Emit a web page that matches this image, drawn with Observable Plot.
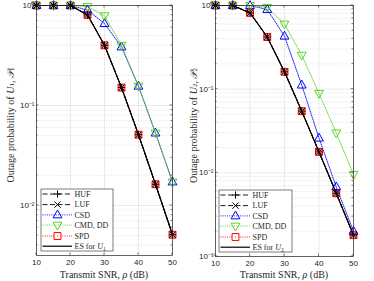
<!DOCTYPE html>
<html><head><meta charset="utf-8">
<script src="https://cdn.jsdelivr.net/npm/d3@7"></script>
<script src="https://cdn.jsdelivr.net/npm/@observablehq/plot@0.6"></script>
<style>
body{margin:0;background:#fff}
#c{display:flex;width:374px;height:281px;overflow:hidden}
svg{display:block}
</style>
</head><body><div id="c"></div>
<script>
// ---- data ----
const snr = [10, 15, 20, 25, 30, 35, 40, 45, 50];
const xTicks = [10, 20, 30, 40, 50];

// user 1 (left panel)
const u1HUF = [1, 1, 1, 0.805, 0.40, 0.151, 0.051, 0.0163, 0.0051];
const u1LUF = [1, 1, 1, 0.805, 0.40, 0.151, 0.051, 0.0163, 0.0051];
const u1CSD = [1, 1, 1, 0.90, 0.66, 0.385, 0.156, 0.053, 0.0172];
const u1CMD = [1, 1, 1, 0.98, 0.79, 0.40, 0.156, 0.053, 0.0172];
const u1SPD = [1, 1, 1, 0.805, 0.40, 0.151, 0.051, 0.0163, 0.0051];
const u1ES  = [1, 1, 1, 0.805, 0.40, 0.151, 0.051, 0.0163, 0.0051];
const u1YTicks = [1, 0.1, 0.01];

// user 2 (right panel)
const u2HUF = [1, 1, 0.816, 0.42, 0.161, 0.0546, 0.0178, 0.0057, 0.0018];
const u2LUF = [1, 1, 0.816, 0.42, 0.161, 0.0546, 0.0178, 0.0057, 0.0018];
const u2CSD = [1, 1, 1, 0.895, 0.43, 0.112, 0.026, 0.0068, 0.0020];
const u2CMD = [1, 1, 1, 0.95, 0.60, 0.255, 0.089, 0.030, 0.0096];
const u2SPD = [1, 1, 0.816, 0.42, 0.161, 0.0546, 0.0178, 0.0057, 0.0018];
const u2ES  = [1, 1, 0.816, 0.42, 0.161, 0.0546, 0.0178, 0.0057, 0.0018];
const u2YTicks = [1, 0.1, 0.01, 0.001];

const seriesNames = ["HUF", "LUF", "CSD", "CMD, DD", "SPD", "ES for"];
const xLabelParts = ["Transmit SNR, ", "ρ", " (dB)"];
const yLabelText = "Outage probability of ";

// ---- styling ----
const SANS = "'Liberation Sans', Arial, Helvetica, sans-serif";
const SERIF = "'Liberation Serif', 'Times New Roman', serif";
const BLUE = "#0000ff", GREEN = "#5ed31f", RED = "#ff0000", BLACK = "#000";

const sym = {
  plus: {draw(c, s){const r=Math.sqrt(s/Math.PI); c.moveTo(-r,0); c.lineTo(r,0); c.moveTo(0,-r); c.lineTo(0,r);}},
  times: {draw(c, s){const r=Math.sqrt(s/Math.PI)*0.75; c.moveTo(-r,-r); c.lineTo(r,r); c.moveTo(-r,r); c.lineTo(r,-r);}},
  up: {draw(c, s){const r=Math.sqrt(s/Math.PI); c.moveTo(0,-r); c.lineTo(r*0.9,r*0.6); c.lineTo(-r*0.9,r*0.6); c.closePath();}},
  down: {draw(c, s){const r=Math.sqrt(s/Math.PI); c.moveTo(0,r); c.lineTo(r*0.9,-r*0.6); c.lineTo(-r*0.9,-r*0.6); c.closePath();}},
  square: {draw(c, s){const r=Math.sqrt(s/Math.PI)*0.8; c.rect(-r,-r,2*r,2*r);}}
};

const supMap = {"-":"⁻","0":"⁰","1":"¹","2":"²","3":"³"};
const fmtPow = d => "10" + String(Math.round(Math.log10(d))).split("").map(c => supMap[c]).join("");

function rows(vals){ return snr.map((x, i) => ({x, y: vals[i]})); }

function panel(cfg){
  const {width, height, ml, mr, mt, mb, yDomain, yTicks, data, sub, ylabX, legend} = cfg;
  const specs = [
    {name: seriesNames[0], vals: data.HUF, stroke: BLACK, dash: "5,2.5", symbol: sym.plus, r: 3.6, fill: "none"},
    {name: seriesNames[1], vals: data.LUF, stroke: BLACK, dash: "5,2.5", symbol: sym.times, r: 4.2, fill: "none"},
    {name: seriesNames[2], vals: data.CSD, stroke: BLUE, dash: "1,1.2", symbol: sym.up, r: 4.9, fill: "none"},
    {name: seriesNames[3], vals: data.CMD, stroke: GREEN, dash: "1,1.2", symbol: sym.down, r: 4.9, fill: "none"},
    {name: seriesNames[4], vals: data.SPD, stroke: RED, dash: "1,1.2", symbol: sym.square, r: 4.3, fill: "rgba(255,60,60,0.45)"},
    {name: seriesNames[5], vals: data.ES, stroke: BLACK, dash: null, symbol: null}
  ];
  const minor = [];
  for (let e = Math.floor(Math.log10(yDomain[0])); e < 0; e++)
    for (let m = 2; m <= 9; m++){ const v = m * 10 ** e; if (v >= yDomain[0] && v <= yDomain[1]) minor.push(v); }

  const lineOrder = [2, 3, 4, 0, 1];
  const marks = [
    Plot.ruleY(minor, {y: d => d, stroke: "#cfcfcf", strokeWidth: 0.6, strokeDasharray: "1,1.5"}),
    Plot.ruleY(yTicks, {y: d => d, stroke: "#dcdcdc", strokeWidth: 0.6}),
    Plot.ruleX(xTicks, {x: d => d, stroke: "#dcdcdc", strokeWidth: 0.6}),
    ...lineOrder.map(i => Plot.line(rows(specs[i].vals), {x: "x", y: "y", stroke: specs[i].stroke, strokeWidth: 0.9, strokeDasharray: specs[i].dash})),
    ...[4, 2, 3, 0, 1].map(i => Plot.dot(rows(specs[i].vals), {x: "x", y: "y", symbol: specs[i].symbol, r: specs[i].r, stroke: specs[i].stroke, fill: specs[i].fill, strokeWidth: 1})),
    Plot.line(rows(specs[5].vals), {x: "x", y: "y", stroke: BLACK, strokeWidth: 1.2}),
    Plot.frame({stroke: "#262626", strokeWidth: 0.7}),
    Plot.axisX({ticks: xTicks, tickSize: 0, tickPadding: 4, label: null, fontSize: 8}),
    Plot.axisY({ticks: yTicks, tickFormat: fmtPow, tickSize: 0, tickPadding: 2, label: null, fontSize: 8})
  ];

  const svg = Plot.plot({
    width, height, marginLeft: ml, marginRight: mr, marginTop: mt, marginBottom: mb,
    style: {fontFamily: SANS, fontSize: "8px", background: "#fff", color: "#262626"},
    x: {domain: [10, 50], label: null},
    y: {type: "log", domain: yDomain, label: null},
    marks
  });
  const xs = svg.scale("x"), ys = svg.scale("y");
  const S = d3.select(svg);
  const x0 = ml, x1 = width - mr, y0 = mt, y1 = height - mb;
  const tg = S.append("g").attr("stroke", "#262626").attr("stroke-width", 0.6);
  xTicks.forEach(v => { const X = xs.apply(v);
    tg.append("line").attr("x1", X).attr("x2", X).attr("y1", y1).attr("y2", y1 - 2.5);
    tg.append("line").attr("x1", X).attr("x2", X).attr("y1", y0).attr("y2", y0 + 2.5); });
  yTicks.forEach(v => { const Y = ys.apply(v);
    tg.append("line").attr("x1", x0).attr("x2", x0 + 2.5).attr("y1", Y).attr("y2", Y);
    tg.append("line").attr("x1", x1).attr("x2", x1 - 2.5).attr("y1", Y).attr("y2", Y); });
  minor.forEach(v => { const Y = ys.apply(v);
    tg.append("line").attr("x1", x0).attr("x2", x0 + 1.5).attr("y1", Y).attr("y2", Y);
    tg.append("line").attr("x1", x1).attr("x2", x1 - 1.5).attr("y1", Y).attr("y2", Y); });

  // x label
  const xl = S.append("text").attr("x", (x0 + x1) / 2).attr("y", height - 3.5).attr("text-anchor", "middle")
    .attr("font-family", SERIF).style("font-family", SERIF).style("font-size", "10px").style("font-weight", "400").attr("fill", "#262626");
  xl.append("tspan").text(xLabelParts[0]);
  xl.append("tspan").attr("font-style", "italic").text(xLabelParts[1]);
  xl.append("tspan").text(xLabelParts[2]);
  // y label
  const yl = S.append("text").attr("transform", `translate(${ylabX},${(y0 + y1) / 2 - 5}) rotate(-90)`)
    .attr("text-anchor", "middle").attr("dominant-baseline", "central")
    .style("font-family", SERIF).style("font-size", "10px").style("font-weight", "400").attr("fill", "#262626");
  yl.append("tspan").text(yLabelText);
  yl.append("tspan").attr("font-style", "italic").text("U");
  yl.append("tspan").style("font-size", "7px").attr("dy", 2).text(sub);
  yl.append("tspan").attr("dy", -2).text(", ");
  yl.append("tspan").attr("font-style", "italic").text("𝒫");
  yl.append("tspan").style("font-size", "7px").attr("dy", 2).text(sub);

  // legend
  const {lx, ly, lw, lh} = legend;
  const L = S.append("g");
  L.append("rect").attr("x", lx).attr("y", ly).attr("width", lw).attr("height", lh)
    .attr("fill", "#fff").attr("stroke", "#262626").attr("stroke-width", 0.6);
  const rowY = [5, 15.6, 25.9, 36.1, 47, 57.2];
  specs.forEach((s, i) => {
    const cy = ly + rowY[i];
    L.append("line").attr("x1", lx + 1.5).attr("x2", lx + 31).attr("y1", cy).attr("y2", cy)
      .attr("stroke", s.stroke).attr("stroke-width", s.dash ? 0.9 : 1.2).attr("stroke-dasharray", s.dash);
    if (s.symbol) {
      const p = d3.path(); s.symbol.draw(p, s.r * s.r * Math.PI);
      L.append("path").attr("d", p.toString()).attr("transform", `translate(${lx + 16.5},${cy})`)
        .attr("fill", s.fill === "none" ? "none" : "#fff").attr("stroke", s.stroke).attr("stroke-width", 1);
      if (i === 4) L.append("circle").attr("cx", lx + 16.5).attr("cy", cy).attr("r", 0.6).attr("fill", s.stroke);
    }
    const t = L.append("text").attr("x", lx + 33.5).attr("y", cy + 2.8).attr("text-anchor", "start")
      .style("font-family", SERIF).style("font-size", "8px").attr("fill", "#262626");
    t.append("tspan").text(s.name);
    if (i === 5) {
      t.append("tspan").attr("font-style", "italic").text(" U");
      t.append("tspan").style("font-size", "5.6px").attr("dy", 1.6).text(sub);
    }
  });
  return svg;
}

const c = document.getElementById("c");
c.append(panel({
  width: 187, height: 281, ml: 36, mr: 15, mt: 5, mb: 26,
  yDomain: [10 ** -2.5, 1], yTicks: u1YTicks,
  data: {HUF: u1HUF, LUF: u1LUF, CSD: u1CSD, CMD: u1CMD, SPD: u1SPD, ES: u1ES},
  sub: "1", ylabX: 10,
  legend: {lx: 41, ly: 189, lw: 72, lh: 62}
}));
c.append(panel({
  width: 187, height: 281, ml: 28, mr: 21, mt: 5, mb: 25,
  yDomain: [1e-3, 1], yTicks: u2YTicks,
  data: {HUF: u2HUF, LUF: u2LUF, CSD: u2CSD, CMD: u2CMD, SPD: u2SPD, ES: u2ES},
  sub: "2", ylabX: 6,
  legend: {lx: 32, ly: 190, lw: 73, lh: 62}
}));
</script>
</body></html>
